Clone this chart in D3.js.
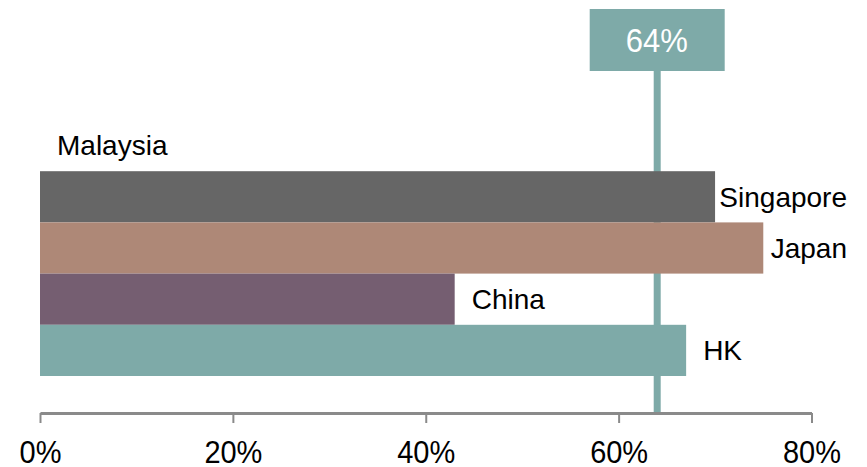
<!DOCTYPE html>
<html>
<head>
<meta charset="utf-8">
<script src="https://cdn.jsdelivr.net/npm/d3@7"></script>
<style>
  html, body { margin: 0; padding: 0; background: #fff; }
  svg { display: block; font-family: "Liberation Sans", Arial, Helvetica, sans-serif; }
</style>
</head>
<body>
<svg id="chart" width="867" height="467"></svg>
<script>
// Share by market (percent)
const countries = ["Malaysia", "Singapore", "Japan", "China", "HK"];
const shares = [0, 70, 75, 43, 67];
const barColors = ["#666666", "#666666", "#ae8877", "#755e71", "#7eaaa8"];
const benchmark = 64;
const benchmarkLabel = "64%";
const tickValues = [0, 20, 40, 60, 80];

const svg = d3.select("#chart");
const teal = "#7eaaa8";
const axisGray = "#8a8a8a";
const labelRight = 847;

const x = d3.scaleLinear().domain([0, 80]).range([40, 811.5]);
const y = d3.scaleBand().domain(countries).range([120, 376]).padding(0);
const axisY = 414.5;

// Benchmark line, behind the bars
svg.append("line")
  .attr("x1", x(benchmark)).attr("x2", x(benchmark))
  .attr("y1", 60).attr("y2", axisY)
  .attr("stroke", teal).attr("stroke-width", 7);

// Benchmark label box
const boxW = 135, boxH = 62;
svg.append("rect")
  .attr("x", x(benchmark) - boxW / 2)
  .attr("y", 9)
  .attr("width", boxW).attr("height", boxH)
  .attr("fill", teal);
svg.append("text")
  .attr("text-anchor", "middle")
  .attr("fill", "#ffffff")
  .attr("font-size", 31)
  .attr("transform", `translate(${x(benchmark) - 0.5},52) scale(1,1.05)`)
  .text(benchmarkLabel);

// Bars
const rows = countries.map((c, i) => ({ name: c, value: shares[i], color: barColors[i] }));
svg.append("g").selectAll("rect")
  .data(rows)
  .join("rect")
  .attr("x", x(0))
  .attr("y", d => y(d.name))
  .attr("width", d => x(d.value) - x(0))
  .attr("height", y.bandwidth())
  .attr("fill", d => d.color);

// Country labels: just past the bar end, kept inside the right edge
svg.append("g").selectAll("text")
  .data(rows)
  .join("text")
  .attr("font-size", 28)
  .attr("fill", "#000")
  .attr("y", d => y(d.name) + y.bandwidth() / 2)
  .attr("dy", "0.35em")
  .text(d => d.name)
  .each(function (d) {
    const t = d3.select(this);
    const start = x(d.value) + 17;
    const w = this.getComputedTextLength();
    if (start + w > labelRight) {
      t.attr("x", labelRight).attr("text-anchor", "end");
    } else {
      t.attr("x", start).attr("text-anchor", "start");
    }
  });

// X axis
const xAxis = d3.axisBottom(x)
  .tickValues(tickValues)
  .tickFormat(d => d + "%")
  .tickSize(10)
  .tickSizeOuter(0);

const gx = svg.append("g")
  .attr("transform", `translate(0,${axisY - 1.5})`)
  .call(xAxis);
gx.select(".domain").attr("stroke", axisGray).attr("stroke-width", 3);
gx.selectAll(".tick line").attr("stroke", axisGray).attr("stroke-width", 2);
gx.selectAll(".tick text")
  .attr("fill", "#000")
  .attr("font-size", 29)
  .attr("font-family", "'Liberation Sans', Arial, sans-serif")
  .attr("y", 0)
  .attr("dy", 0)
  .attr("transform", "translate(0,50) scale(1,1.1)");
</script>
</body>
</html>
